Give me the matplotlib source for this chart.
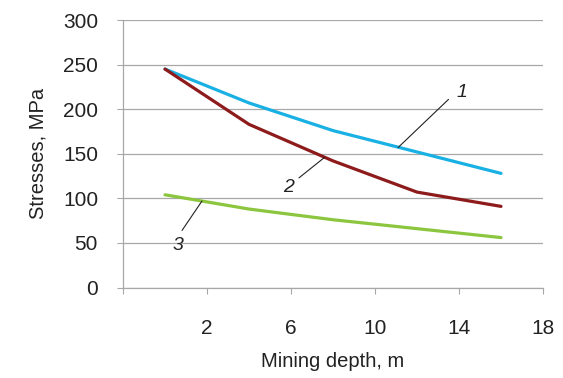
import matplotlib.pyplot as plt

plt.rcParams['font.family'] = ['Liberation Sans', 'DejaVu Sans']

depth = [0, 4, 8, 12, 16]
curve1 = [245, 207, 176, 152, 128]
curve2 = [245, 183, 142, 107, 91]
curve3 = [104, 88, 76, 66, 56]

x_ticks = [-2, 2, 6, 10, 14, 18]
x_labels = ['', '2', '6', '10', '14', '18']
y_ticks = [0, 50, 100, 150, 200, 250, 300]

fig = plt.figure(figsize=(5.63, 3.78), dpi=100)
ax = fig.add_axes([0.2185, 0.2394, 0.746, 0.7076])

ax.plot(depth, curve1, color='#19b1e3', lw=2.3, solid_capstyle='round')
ax.plot(depth, curve2, color='#8e1b1b', lw=2.3, solid_capstyle='round')
ax.plot(depth, curve3, color='#8cc63e', lw=2.3, solid_capstyle='round')

ax.set_xlim(-2, 18)
ax.set_ylim(0, 300)
ax.set_xticks(x_ticks)
ax.set_xticklabels(x_labels)
ax.set_yticks(y_ticks)
ax.grid(axis='y', color='#a8a8a8', lw=0.9)
ax.set_axisbelow(True)

for s in ['top', 'right']:
    ax.spines[s].set_visible(False)
for s in ['left', 'bottom']:
    ax.spines[s].set_color('#a8a8a8')
    ax.spines[s].set_linewidth(0.9)

ax.tick_params(axis='x', length=4, color='#a8a8a8', pad=19, labelsize=15, labelcolor='#222222')
ax.tick_params(axis='y', length=4, color='#a8a8a8', pad=14, labelsize=15, labelcolor='#222222')

ax.set_xlabel('Mining depth, m', fontsize=14.5, color='#222222', labelpad=10)
ax.set_ylabel('Stresses, MPa', fontsize=14.5, color='#222222', labelpad=11)

# leader lines with curve numbers
lead = dict(arrowstyle='-', color='#222222', lw=0.8, shrinkA=0, shrinkB=0)
ax.annotate('', xy=(11.1, 157), xytext=(13.5, 211), arrowprops=lead)
ax.text(14.15, 219, '1', fontsize=14, style='italic', ha='center', va='center', color='#222222')
ax.annotate('', xy=(7.6, 146), xytext=(6.38, 123), arrowprops=lead)
ax.text(5.86, 112, '2', fontsize=14, style='italic', ha='center', va='center', color='#222222')
ax.annotate('', xy=(1.76, 97), xytext=(0.81, 64), arrowprops=lead)
ax.text(0.62, 47, '3', fontsize=14, style='italic', ha='center', va='center', color='#222222')

fig.savefig('out.png', dpi=100)
